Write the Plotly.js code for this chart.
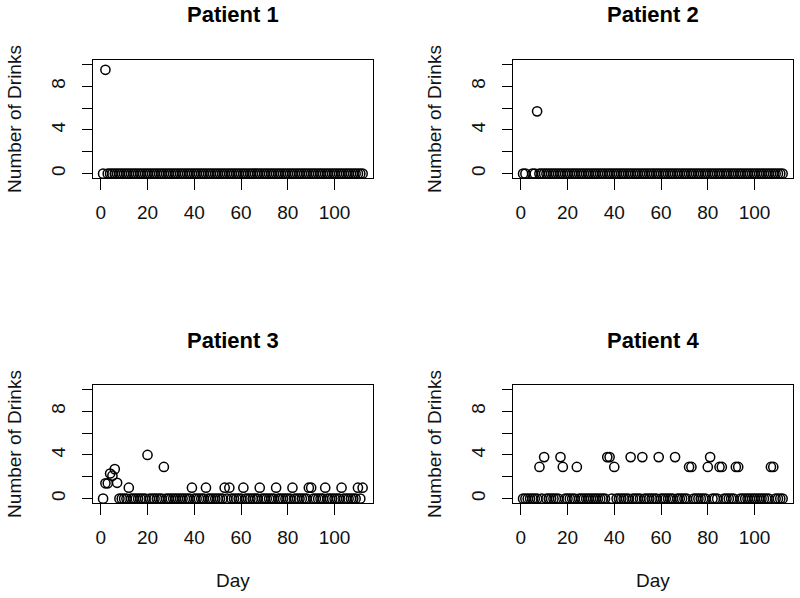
<!DOCTYPE html>
<html>
<head>
<meta charset="utf-8">
<script src="https://cdn.plot.ly/plotly-3.0.1.min.js"></script>
<style>html,body{margin:0;padding:0;background:#fff;}#chart{width:800px;height:598px;}</style>
</head>
<body>
<div id="chart"></div>
<script>
const days = [1,2,3,4,5,6,7,8,9,10,11,12,13,14,15,16,17,18,19,20,21,22,23,24,25,26,27,28,29,30,
31,32,33,34,35,36,37,38,39,40,41,42,43,44,45,46,47,48,49,50,51,52,53,54,55,56,57,58,59,60,
61,62,63,64,65,66,67,68,69,70,71,72,73,74,75,76,77,78,79,80,81,82,83,84,85,86,87,88,89,90,
91,92,93,94,95,96,97,98,99,100,101,102,103,104,105,106,107,108,109,110,111,112];

const patient1 = [0,9.5,0,0,0,0,0,0,0,0, 0,0,0,0,0,0,0,0,0,0, 0,0,0,0,0,0,0,0,0,0,
0,0,0,0,0,0,0,0,0,0, 0,0,0,0,0,0,0,0,0,0, 0,0,0,0,0,0,0,0,0,0, 0,0,0,0,0,0,0,0,0,0,
0,0,0,0,0,0,0,0,0,0, 0,0,0,0,0,0,0,0,0,0, 0,0,0,0,0,0,0,0,0,0, 0,0,0,0,0,0,0,0,0,0, 0,0];

const patient2 = [0,0,null,null,0,0,5.7,0,0,0, 0,0,0,0,0,0,0,0,0,0, 0,0,0,0,0,0,0,0,0,0,
0,0,0,0,0,0,0,0,0,0, 0,0,0,0,0,0,0,0,0,0, 0,0,0,0,0,0,0,0,0,0, 0,0,0,0,0,0,0,0,0,0,
0,0,0,0,0,0,0,0,0,0, 0,0,0,0,0,0,0,0,0,0, 0,0,0,0,0,0,0,0,0,0, 0,0,0,0,0,0,0,0,0,0, 0,0];

const patient3 = [0,1.4,1.4,2.3,2.1,2.7,1.45,0,0,0, 0,1,0,0,0,0,0,0,0,4.0, 0,0,0,0,0,0,2.9,0,0,0,
0,0,0,0,0,0,0,0,1,0, 0,0,0,0,1,0,0,0,0,0, 0,0,1,0,1,0,0,0,0,0, 1,0,0,0,0,0,0,1,0,0,
0,0,0,0,1,0,0,0,0,0, 0,1,0,0,0,0,0,0,1,1, 0,0,0,0,0,1,0,0,0,0, 0,0,1,0,0,0,0,0,0,1, 0,1];

const patient4 = [0,0,0,0,0,0,0,2.9,0,3.8, 0,0,0,0,0,0,3.8,2.9,0,0, 0,0,0,2.9,0,0,0,0,0,0,
0,0,0,0,0,0,3.8,3.8,0,2.9, 0,0,0,0,0,0,3.8,0,0,0, 0,3.8,0,0,0,0,0,0,3.8,0, 0,0,0,0,0,3.8,0,0,0,0,
0,2.9,2.9,0,0,0,0,0,0,2.9, 3.8,0,0,0,2.9,2.9,0,0,0,0, 0,2.9,2.9,0,0,0,0,0,0,0, 0,0,0,0,0,0,2.9,2.9,0,0, 0,0];

const panelTitles = ["Patient 1","Patient 2","Patient 3","Patient 4"];
const series = [patient1, patient2, patient3, patient4];
const xTicks = [0,20,40,60,80,100];
const yTicks = [0,2,4,6,8,10];
const yTickText = ["0","","4","","8",""];
const yTitle = "Number of Drinks";
const xTitle = "Day";

const W = 800, H = 598;
const FONT = "Liberation Sans, Arial, sans-serif";
const colX = [[92.7, 373], [512.7, 793]];
const rowY = [[60, 178], [385, 503]];

const traces = series.map((vals, i) => ({
  type: "scatter", mode: "markers",
  x: days, y: vals,
  xaxis: i === 0 ? "x" : "x" + (i + 1),
  yaxis: i === 0 ? "y" : "y" + (i + 1),
  marker: {symbol: "circle-open", size: 9.2, color: "#000", line: {width: 1.5, color: "#000"}},
  cliponaxis: false, hoverinfo: "skip"
}));

const layout = {
  width: W, height: H, margin: {l: 0, r: 0, t: 0, b: 0},
  paper_bgcolor: "#fff", plot_bgcolor: "#fff", showlegend: false,
  font: {family: FONT, color: "#000", size: 19},
  annotations: []
};

for (let i = 0; i < 4; i++) {
  const c = i % 2, r = Math.floor(i / 2);
  const sx = i === 0 ? "" : String(i + 1);
  const xd = [colX[c][0] / W, colX[c][1] / W];
  const yd = [1 - rowY[r][1] / H, 1 - rowY[r][0] / H];
  layout["xaxis" + sx] = {
    domain: xd, anchor: "y" + sx, range: [-3.44, 116.44],
    tickmode: "array", tickvals: xTicks, ticktext: xTicks.map(String),
    ticks: "outside", ticklen: 11, tickwidth: 1, tickcolor: "#000",
    showline: true, mirror: true, linecolor: "#000", linewidth: 1,
    showgrid: false, zeroline: false, ticklabelstandoff: 6,
    tickfont: {family: FONT, size: 19, color: "#111"},
    title: r === 1 ? {text: xTitle, font: {family: FONT, size: 19, color: "#111"}, standoff: 26} : {text: ""}
  };
  layout["yaxis" + sx] = {
    domain: yd, anchor: "x" + sx, range: [-0.4, 10.4],
    tickmode: "array", tickvals: yTicks, ticktext: yTickText, tickangle: -90,
    ticks: "outside", ticklen: 10, tickwidth: 1, tickcolor: "#000",
    showline: true, mirror: true, linecolor: "#000", linewidth: 1,
    showgrid: false, zeroline: false, ticklabelstandoff: 9,
    tickfont: {family: FONT, size: 19, color: "#111"},
    title: {text: yTitle, font: {family: FONT, size: 19, color: "#111"}, standoff: 21}
  };
  layout.annotations.push({
    text: "<b>" + panelTitles[i] + "</b>", xref: "paper", yref: "paper",
    x: (xd[0] + xd[1]) / 2, y: 1 - (15 + 325 * r) / H,
    xanchor: "center", yanchor: "middle", showarrow: false,
    font: {family: FONT, size: 22, color: "#000"}
  });
}

Plotly.newPlot("chart", traces, layout, {staticPlot: true, displayModeBar: false});
</script>
</body>
</html>
